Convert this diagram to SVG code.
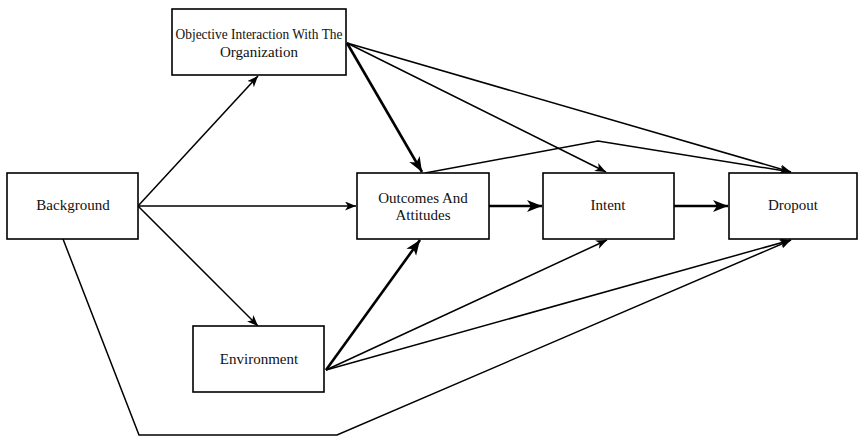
<svg xmlns="http://www.w3.org/2000/svg" width="859" height="436" viewBox="0 0 859 436">
<defs>
<style>
.box{fill:#fff;stroke:#000;stroke-width:1.6}
.t{font-family:"Liberation Serif","Times New Roman",serif;font-size:15px;fill:#111;text-anchor:middle}
.thin{fill:none;stroke:#000;stroke-width:1.5;marker-end:url(#ah)}
.thick{fill:none;stroke:#000;stroke-width:2.6;marker-end:url(#ahb)}
.plain{fill:none;stroke:#000;stroke-width:1.5}
</style>
<marker id="ah" markerUnits="userSpaceOnUse" markerWidth="12" markerHeight="10" refX="11" refY="4.5" orient="auto">
<path d="M0,0 L11,4.5 L0,9 L3,4.5 z" fill="#000"/>
</marker>
<marker id="ahb" markerUnits="userSpaceOnUse" markerWidth="16" markerHeight="13" refX="15" refY="6" orient="auto">
<path d="M0,0 L15,6 L0,12 L4,6 z" fill="#000"/>
</marker>
</defs>
<rect width="859" height="436" fill="#fff"/>
<g id="connectors">
<line class="thin" x1="138" y1="206" x2="258" y2="76"/>
<line class="thin" x1="138" y1="206" x2="356" y2="206"/>
<line class="thin" x1="138" y1="206" x2="258" y2="326"/>
<line class="thick" x1="347" y1="43" x2="422" y2="172"/>
<line class="thin" x1="347" y1="43" x2="606" y2="172"/>
<line class="thin" x1="347" y1="43" x2="791" y2="172"/>
<polyline class="thin" points="425,173 598,141 791,172"/>
<line class="thick" x1="489" y1="206" x2="542" y2="206"/>
<line class="thick" x1="674" y1="206" x2="728" y2="206"/>
<line class="thick" x1="326" y1="370" x2="420" y2="240"/>
<line class="thin" x1="326" y1="370" x2="607" y2="240"/>
<line class="thin" x1="326" y1="370" x2="791" y2="240"/>
<polyline class="thin" points="63,239 139,435 337,435 791,240"/>
</g>
<g id="objective">
<rect class="box" x="172" y="9" width="174" height="66"/>
<text class="t" x="259" y="39" textLength="167" lengthAdjust="spacingAndGlyphs">Objective Interaction With The</text>
<text class="t" x="259" y="57">Organization</text>
</g>
<g id="background">
<rect class="box" x="7" y="173" width="131" height="66"/>
<text class="t" x="73" y="210">Background</text>
</g>
<g id="outcomes">
<rect class="box" x="357" y="173" width="132" height="66"/>
<text class="t" x="423" y="203">Outcomes And</text>
<text class="t" x="423" y="220">Attitudes</text>
</g>
<g id="intent">
<rect class="box" x="543" y="173" width="131" height="66"/>
<text class="t" x="608" y="210">Intent</text>
</g>
<g id="dropout">
<rect class="box" x="729" y="173" width="128" height="66"/>
<text class="t" x="793" y="210">Dropout</text>
</g>
<g id="environment">
<rect class="box" x="193" y="326" width="131" height="66"/>
<text class="t" x="259" y="364">Environment</text>
</g>
</svg>
